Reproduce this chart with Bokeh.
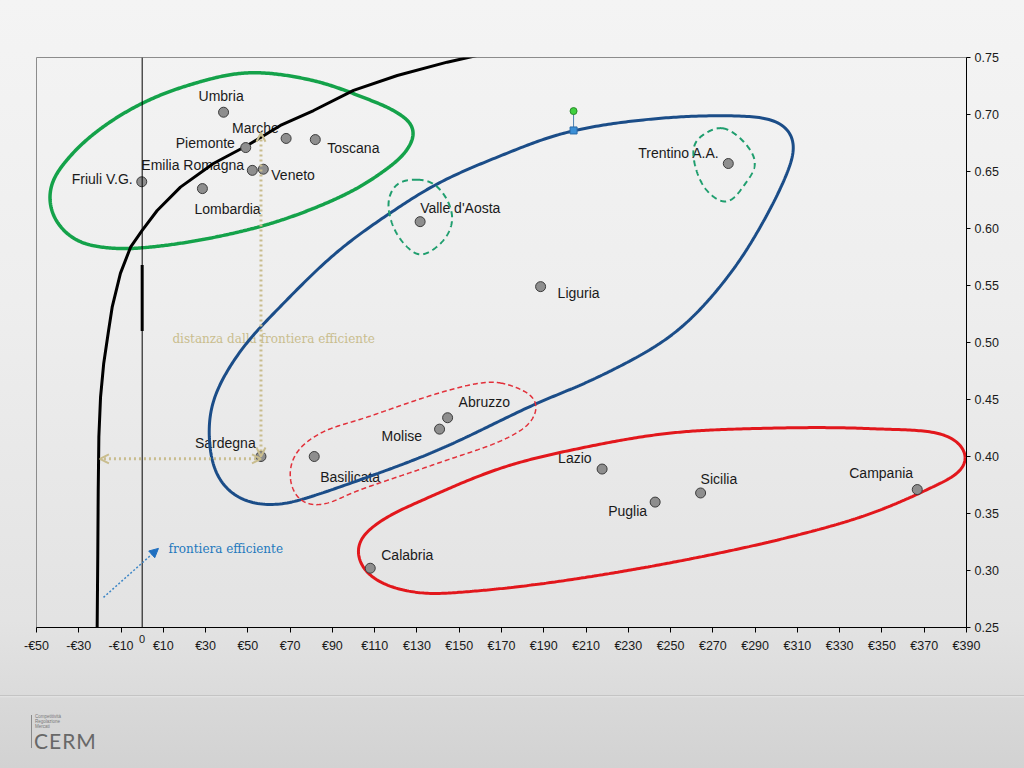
import numpy as np
from bokeh.plotting import figure
from bokeh.layouts import column
from bokeh.models import (ColumnDataSource, FixedTicker, Range1d, Span, LinearAxis, Div,
                          Arrow, OpenHead, NormalHead, PrintfTickFormatter)
from bokeh.core.properties import value
from bokeh.embed import file_html
from bokeh.resources import INLINE

# ---------------- data ----------------
regions = ["Umbria", "Marche", "Toscana", "Piemonte", "Emilia Romagna", "Veneto",
           "Friuli V.G.", "Lombardia", "Valle d'Aosta", "Trentino A.A.", "Liguria",
           "Abruzzo", "Molise", "Sardegna", "Basilicata", "Lazio", "Sicilia",
           "Puglia", "Campania", "Calabria"]
spesa_x = [38.5, 68.1, 81.9, 49.0, 52.1, 57.3, -0.2, 28.5, 131.5, 277.3, 188.5,
           144.5, 140.7, 56.2, 81.4, 217.6, 264.2, 242.7, 366.7, 107.9]
indice_y = [0.702, 0.679, 0.678, 0.671, 0.651, 0.652, 0.641, 0.635, 0.606, 0.657,
            0.549, 0.434, 0.424, 0.400, 0.400, 0.389, 0.368, 0.360, 0.371, 0.302]

frontier_x = [-21.3, -21.0, -20.8, -20.5, -19.7, -18.2, -15.9, -14.2, -10.3, -5.5,
              0.0, 7.1, 18.1, 33.7, 49.7, 65.4, 81.1, 100.0, 120.7, 144.3, 158.5]
frontier_y = [0.25, 0.315, 0.37, 0.417, 0.452, 0.4816, 0.5106, 0.531, 0.5606, 0.5836,
              0.5983, 0.6158, 0.6363, 0.657, 0.6728, 0.6904, 0.7035, 0.7211, 0.7342,
              0.7459, 0.7518]

x_ticks = list(range(-50, 391, 20))
x_tick_labels = ["-€50", "-€30", "-€10", "€10", "€30", "€50", "€70", "€90", "€110",
                 "€130", "€150", "€170", "€190", "€210", "€230", "€250", "€270",
                 "€290", "€310", "€330", "€350", "€370", "€390"]
y_ticks = [0.25, 0.30, 0.35, 0.40, 0.45, 0.50, 0.55, 0.60, 0.65, 0.70, 0.75]

# ---------------- layout (label offsets in screen px) ----------------
label_offsets = {
    "Umbria": (-25, -16), "Marche": (-54, -10), "Toscana": (12, 8),
    "Piemonte": (-70, -5), "Emilia Romagna": (-111, -5), "Veneto": (8, 6),
    "Friuli V.G.": (-70, -3), "Lombardia": (-8, 20), "Valle d'Aosta": (0, -14),
    "Trentino A.A.": (-90, -11), "Liguria": (17, 6), "Abruzzo": (11, -16),
    "Molise": (-58, 7), "Sardegna": (-66, -14), "Basilicata": (6, 20),
    "Lazio": (-44, -11), "Sicilia": (0, -14), "Puglia": (-47, 9),
    "Campania": (-68, -17), "Calabria": (11, -13),
}

# hand-drawn group outlines (annotation shapes, chart units)
green_group = ([49.8, 81.1, 104.7, 120.8, 129.3, 125.5, 112.8, 97.1, 65.4, 33.7, 2.5,
                -13.6, -31.5, -42.4, -43.4, -33.9, -19.7, 0.6, 22.9],
               [0.7368, 0.7298, 0.7149, 0.7018, 0.6877, 0.6684, 0.6483, 0.6307, 0.607,
                0.5921, 0.5834, 0.5825, 0.5895, 0.6114, 0.6377, 0.664, 0.6877, 0.7105,
                0.7263])
blue_group = ([204.1, 270.8, 304.4, 309.6, 306.3, 296.8, 278.4, 251.9, 214.5, 186.6,
               139.7, 102.3, 74.4, 65.0, 46.5, 35.2, 31.4, 33.3, 46.5, 65.0, 92.9,
               121.3, 139.7, 167.6],
              [0.686, 0.699, 0.692, 0.6746, 0.6535, 0.6158, 0.5606, 0.508, 0.4685,
               0.4466, 0.4053, 0.379, 0.3615, 0.3571, 0.3615, 0.3817, 0.4203, 0.4492,
               0.493, 0.5308, 0.5807, 0.6185, 0.6395, 0.6623])
red_group = ([391.2, 388.3, 373.8, 344.9, 306.3, 248.3, 190.4, 151.7, 132.4, 113.1,
              103.5, 101.5, 113.1, 132.4, 171.0, 209.7, 248.3, 286.9, 344.9, 383.4],
             [0.3995, 0.3878, 0.3731, 0.35, 0.3293, 0.3062, 0.2887, 0.2811, 0.2799,
              0.2887, 0.303, 0.3238, 0.3439, 0.3615, 0.3907, 0.4082, 0.4203, 0.4244,
              0.4244, 0.417])
red_dashed = ([169.5, 186.6, 184.7, 173.3, 139.7, 102.3, 83.9, 74.4, 69.7, 72.5, 83.9,
               106.1, 139.7, 158.6],
              [0.465, 0.4492, 0.4317, 0.4167, 0.394, 0.3703, 0.3571, 0.3615, 0.3817,
               0.4027, 0.4203, 0.4343, 0.4553, 0.4641])
green_dashed_vda = ([130.3, 137.8, 144.5, 146.8, 142.6, 131.7, 125.5, 118.9, 116.5, 120.8],
                    [0.643, 0.6395, 0.6246, 0.607, 0.5895, 0.5764, 0.5834, 0.6009,
                     0.6246, 0.6395])
green_dashed_taa = ([274.6, 285.4, 290.2, 285.4, 276.5, 267.0, 261.3, 261.3, 267.0],
                    [0.6886, 0.6746, 0.657, 0.6395, 0.6228, 0.6334, 0.657, 0.6746,
                     0.6842])

X_RANGE = (-50, 390)
Y_RANGE = (0.25, 0.75)
FRAME_W, FRAME_H = 930, 570
ASPECT = (FRAME_H / (Y_RANGE[1] - Y_RANGE[0])) / (FRAME_W / (X_RANGE[1] - X_RANGE[0]))
PX_PER_X = FRAME_W / (X_RANGE[1] - X_RANGE[0])


def smooth_outline(xs, ys, smooth_px=6.0, per_seg=30, n_out=600):
    """Closed centripetal Catmull-Rom curve through hand-drawn guide points,
    lightly smoothed along its length (shapes are annotations, not data)."""
    P = np.column_stack([np.asarray(xs, float), np.asarray(ys, float) * ASPECT])
    m = len(P)
    dense = []
    for i in range(m):
        p0, p1, p2, p3 = P[(i - 1) % m], P[i], P[(i + 1) % m], P[(i + 2) % m]
        t0 = 0.0
        t1 = t0 + np.linalg.norm(p1 - p0) ** 0.5
        t2 = t1 + np.linalg.norm(p2 - p1) ** 0.5
        t3 = t2 + np.linalg.norm(p3 - p2) ** 0.5
        t = np.linspace(t1, t2, per_seg, endpoint=False)[:, None]
        a1 = (t1 - t) / (t1 - t0) * p0 + (t - t0) / (t1 - t0) * p1
        a2 = (t2 - t) / (t2 - t1) * p1 + (t - t1) / (t2 - t1) * p2
        a3 = (t3 - t) / (t3 - t2) * p2 + (t - t2) / (t3 - t2) * p3
        b1 = (t2 - t) / (t2 - t0) * a1 + (t - t0) / (t2 - t0) * a2
        b2 = (t3 - t) / (t3 - t1) * a2 + (t - t1) / (t3 - t1) * a3
        dense.append((t2 - t) / (t2 - t1) * b1 + (t - t1) / (t2 - t1) * b2)
    D = np.concatenate(dense)
    # resample uniformly by arc length
    seg = np.hypot(*np.diff(np.vstack([D, D[:1]]), axis=0).T)
    s = np.r_[0, np.cumsum(seg)]
    L = s[-1]
    su = np.linspace(0, L, n_out, endpoint=False)
    Dc = np.vstack([D, D[:1]])
    R = np.column_stack([np.interp(su, s, Dc[:, 0]), np.interp(su, s, Dc[:, 1])])
    # circular gaussian smoothing
    sigma = (smooth_px / PX_PER_X) / (L / n_out)
    half = int(np.ceil(3 * sigma))
    k = np.exp(-0.5 * (np.arange(-half, half + 1) / sigma) ** 2)
    k /= k.sum()
    Rp = np.vstack([R[-half:], R, R[:half]])
    S = np.column_stack([np.convolve(Rp[:, 0], k, "valid"), np.convolve(Rp[:, 1], k, "valid")])
    S = np.vstack([S, S[:1]])
    return S[:, 0], S[:, 1] / ASPECT


# ---------------- main figure ----------------
p = figure(width=1024, height=695, x_range=Range1d(*X_RANGE), y_range=Range1d(*Y_RANGE),
           output_backend="svg", toolbar_location=None, title=None,
           y_axis_location="right",
           min_border_left=36, min_border_right=58, min_border_top=57, min_border_bottom=68)

p.border_fill_color = None
p.background_fill_color = None
p.outline_line_color = "#8c8c8c"
p.outline_line_width = 1
p.grid.visible = False
p.styles = {"background": "linear-gradient(to bottom, #f4f4f4 0px, #eeeeee 300px, "
                          "#e3e3e3 620px, #dbdbdb 695px)"}

xa = p.xaxis[0]
xa.ticker = FixedTicker(ticks=x_ticks)
xa.major_label_overrides = dict(zip(x_ticks, x_tick_labels))
ya = p.yaxis[0]
ya.ticker = FixedTicker(ticks=y_ticks)
ya.formatter = PrintfTickFormatter(format="%.2f")
for ax in (xa, ya):
    ax.axis_line_color = "#000000"
    ax.major_tick_line_color = "#000000"
    ax.major_tick_in = 0
    ax.minor_tick_line_color = None
    ax.major_label_text_font = "Liberation Sans"
    ax.major_label_text_font_size = "12.5px"
    ax.major_label_text_color = "#1a1a1a"
xa.major_tick_out = 5
xa.major_label_standoff = 6
ya.major_tick_out = 4
ya.major_label_standoff = 4

# "0" marker under the zero line (secondary axis pulled up under the main one)
zero_axis = LinearAxis(ticker=FixedTicker(ticks=[0]), major_label_overrides={0: "0"},
                       axis_line_color=None, major_tick_line_color=None,
                       minor_tick_line_color=None, major_tick_out=0, major_tick_in=0,
                       major_label_standoff=-21, major_label_text_font="Liberation Sans",
                       major_label_text_font_size="11px", major_label_text_color="#1a1a1a")
p.add_layout(zero_axis, "below")

# zero line
p.add_layout(Span(location=0, dimension="height", line_color="#000000", line_width=1))

# labels
src = ColumnDataSource(dict(
    x=spesa_x, y=indice_y, name=regions,
    dx=[label_offsets[r][0] for r in regions],
    dy=[label_offsets[r][1] for r in regions]))
p.text(x="x", y="y", text="name", x_offset="dx", y_offset="dy", source=src,
       text_font=value("Liberation Sans"), text_font_size="14px", text_color="#1a1a1a",
       text_align="left", text_baseline="middle")

# annotation texts
p.text(x=[14.3], y=[0.5027], text=["distanza dalla frontiera efficiente"],
       text_font=value("DejaVu Serif"), text_font_size="12px", text_color="#c9bd8e",
       text_align="left", text_baseline="middle")
p.text(x=[12.5], y=[0.3185], text=["frontiera efficiente"],
       text_font=value("DejaVu Serif"), text_font_size="12px", text_color="#2378bd",
       text_align="left", text_baseline="middle")

# group shapes
for (gx, gy), sm, color, width, dash in [
        (green_group, 10, "#14a24a", 3.5, "solid"),
        (blue_group, 15, "#1b4d88", 3, "solid"),
        (red_group, 12, "#e2171c", 3, "solid"),
        (red_dashed, 8, "#e2303a", 1.5, "5 3"),
        (green_dashed_vda, 5, "#1f9e6e", 2, "6 4"),
        (green_dashed_taa, 5, "#1f9e6e", 2, "6 4")]:
    cx, cy = smooth_outline(gx, gy, smooth_px=sm)
    p.line(cx, cy, line_color=color, line_width=width, line_dash=dash)

# efficient frontier
p.line(frontier_x, frontier_y, line_color="#000000", line_width=3, line_join="round")
p.line([0, 0], [0.51, 0.568], line_color="#000000", line_width=3)

# distance arrows
tan = "#c9bd8e"
p.add_layout(Arrow(x_start=56.2, y_start=0.40, x_end=56.2, y_end=0.684,
                   line_color=tan, line_width=3, line_dash="2 3",
                   start=OpenHead(size=9, line_color=tan, line_width=2),
                   end=OpenHead(size=9, line_color=tan, line_width=2)))
p.add_layout(Arrow(x_start=56.2, y_start=0.398, x_end=-20.0, y_end=0.398,
                   line_color=tan, line_width=3, line_dash="2 3",
                   start=OpenHead(size=9, line_color=tan, line_width=2),
                   end=OpenHead(size=9, line_color=tan, line_width=2)))
p.add_layout(Arrow(x_start=-18.3, y_start=0.2764, x_end=7.7, y_end=0.3194,
                   line_color="#3d86c6", line_width=1.5, line_dash="2 2",
                   end=NormalHead(size=9, fill_color="#1f6fc0", line_color="#1f6fc0")))

# selection handle
p.line([204.1, 204.1], [0.686, 0.703], line_color="#4a7fb0", line_width=1)
p.scatter([204.1], [0.703], marker="circle", size=7, fill_color="#3fd03f", line_color="#2a8a2a")
p.scatter([204.1], [0.686], marker="square", size=7, fill_color="#3b8fd6", line_color="#2a6aa8")

# points
p.scatter("x", "y", source=src, marker="circle", size=10,
          fill_color="#8e8e8e", line_color="#3c3c3c", line_width=1)

# ---------------- footer with logo ----------------
footer_html = (
    '<div style="position:relative;width:1024px;height:73px;margin:0;">'
    '<div style="position:absolute;left:31px;top:20px;width:1px;height:33px;'
    'background:#8a8a8a;"></div>'
    '<div style="position:absolute;left:35px;top:19px;font-family:\'Liberation Sans\';'
    'font-size:4.5px;line-height:5px;color:#7a7a7a;">Competitività<br>Regolazione<br>Mercati</div>'
    '<div style="position:absolute;left:34px;top:37px;font-family:Lato;font-size:21px;'
    'line-height:18px;letter-spacing:1px;color:#686868;">CERM</div>'
    '</div>'
)
footer = Div(text=footer_html, width=1024, height=73,
             styles={"background": "linear-gradient(to bottom, #c4c4c4 0px, #c4c4c4 1px, "
                                   "#e4e4e4 1px, #d9d9d9 3px, #d2d2d2 73px)",
                     "margin": "0", "padding": "0"})

layout = column(p, footer, spacing=0)
open("out.html", "w").write(file_html(layout, INLINE))
